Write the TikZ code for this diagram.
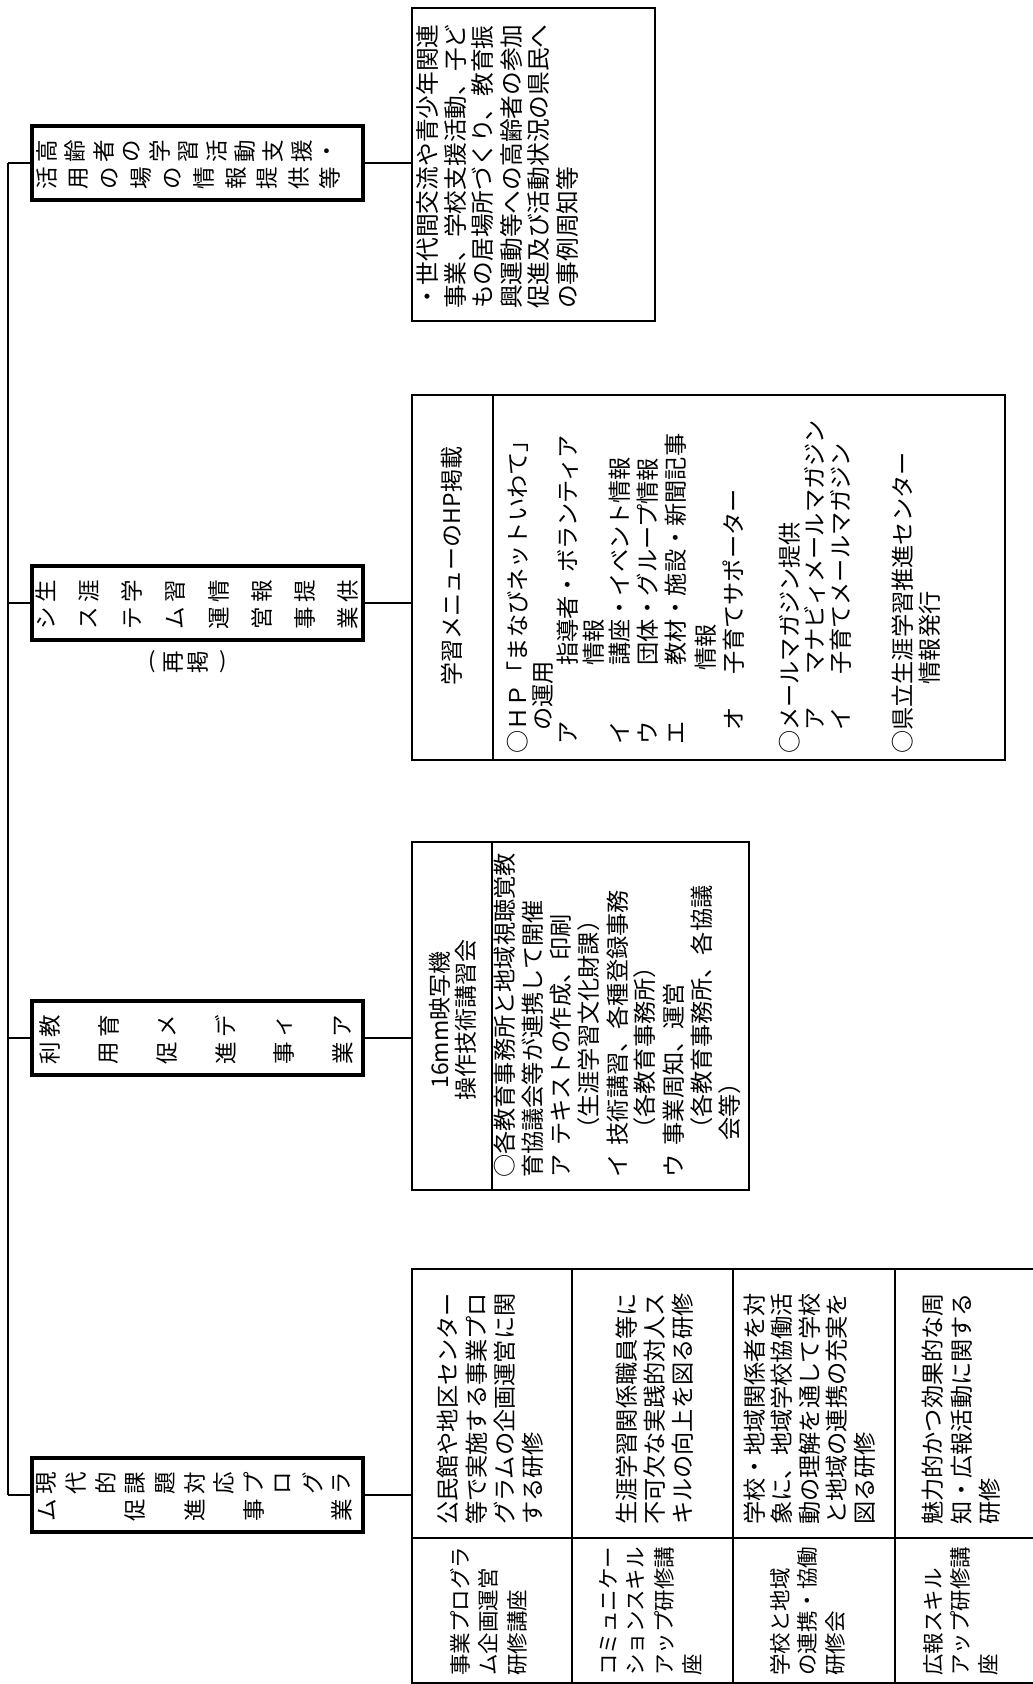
\documentclass[tikz,border=0pt]{standalone}
\usepackage{fontspec}
\setmainfont{Noto Sans CJK JP}
\begin{document}
\begin{tikzpicture}[x=1pt,y=-1pt,
  lab/.style={draw, line width=4.5pt, minimum width=331pt, minimum height=74pt, inner sep=0pt},
  det/.style={draw, line width=1.8pt, inner sep=0pt},
  con/.style={line width=1.8pt},
  ln/.style={rotate=90, anchor=west, inner sep=0pt, font=\fontsize{23.2}{27}\selectfont},
  lnA/.style={ln, font=\fontsize{23.7}{27}\selectfont},
  lnT/.style={ln, font=\fontsize{21.5}{26}\selectfont},
  hd/.style={rotate=90, anchor=center, inner sep=0pt, font=\fontsize{23}{27}\selectfont},
  ch/.style={rotate=90, inner sep=0pt, font=\fontsize{22.5}{26}\selectfont},
  par/.style={inner sep=0pt, font=\fontsize{22}{26}\selectfont}]
\useasboundingbox (0,0) rectangle (1033,1684);
\fill[white] (0,0) rectangle (1033,1684);

% ---------- label boxes ----------
\node[lab] (A) at (197.5,163) {};
\node[lab] (B) at (197.5,603) {};
\node[lab] (C) at (197.5,1038) {};
\node[lab] (D) at (197.5,1495) {};

\foreach \c [count=\i from 0] in {高,齢,者,の,学,習,活,動,支,援,・}
  \node[ch] (at\i) at ({47+28.3*\i},151) {\c};
\foreach \c [count=\i from 0] in {活,用,の,場,の,情,報,提,供,等}
  \node[ch] (ab\i) at ({47+31.44*\i},178) {\c};

\foreach \c [count=\i from 0] in {生,涯,学,習,情,報,提,供}
  \node[ch] (bt\i) at ({46+43.2*\i},591) {\c};
\foreach \c [count=\i from 0] in {シ,ス,テ,ム,運,営,事,業}
  \node[ch] (bb\i) at ({46+43.2*\i},618) {\c};
\node[par] (bp1) at (152,662) {(};
\node[ch]  (bp2) at (174,662) {再};
\node[ch]  (bp3) at (198,662) {掲};
\node[par] (bp4) at (223,662) {)};

\foreach \c [count=\i from 0] in {教,育,メ,デ,ィ,ア}
  \node[ch] (ct\i) at ({50+58.5*\i},1026) {\c};
\foreach \c [count=\i from 0] in {利,用,促,進,事,業}
  \node[ch] (cb\i) at ({50+58.5*\i},1053) {\c};

\foreach \c [count=\i from 0] in {現,代,的,課,題,対,応,プ,ロ,グ,ラ}
  \node[ch] (dt\i) at ({47+29.5*\i},1483) {\c};
\foreach \c/\k in {ム/0,促/3,進/5,事/7,業/10}
  \node[ch] (db\k) at ({47+29.5*\k},1510) {\c};

% ---------- detail boxes ----------
\node[det, minimum width=243pt, minimum height=313pt] (DA) at (533.5,164.5) {};
\node[det, minimum width=593pt, minimum height=365pt] (DB) at (708.5,577.5) {};
\node[det, minimum width=337pt, minimum height=348pt] (DC) at (580.5,1016) {};
\draw[con] (493,395) -- (493,760);
\draw[con] (492,842) -- (492,1190);

% table
\coordinate (T) at (412,1269);
\draw[con] (1033,1269) -- (T) -- (412,1683) -- (1033,1683);
\draw[con] (412,1538) -- (1033,1538);
\draw[con] (572,1269) -- (572,1683);
\draw[con] (733,1269) -- (733,1683);
\draw[con] (895,1269) -- (895,1683);

% ---------- connectors ----------
\coordinate (mtop) at (8,163);
\coordinate (mbot) at (8,1495);
\draw[con] (mtop) -- (mbot);
\draw[con] (mtop) -- (A.west);
\draw[con] (B.west -| mtop) -- (B.west);
\draw[con] (C.west -| mtop) -- (C.west);
\draw[con] (mbot) -- (D.west);
\draw[con] (A.east) -- (A.east -| DA.west);
\draw[con] (B.east) -- (B.east -| DB.west);
\draw[con] (C.east) -- (C.east -| DC.west);
\draw[con] (D.east) -- (D.east -| T);

% ---------- detail A text ----------
\node[lnA] (a1) at (427,309) {・世代間交流や青少年関連};
\node[lnA] (a2) at (455,309) {事業、学校支援活動、子ど};
\node[lnA] (a3) at (483,309) {もの居場所づくり、教育振};
\node[lnA] (a4) at (511,309) {興運動等への高齢者の参加};
\node[lnA] (a5) at (539,309) {促進及び活動状況の県民へ};
\node[lnA] (a6) at (567,309) {の事例周知等};

% ---------- detail B text ----------
\node[hd] (bh) at (452,566) {学習メニューのHP掲載};
\node[ln] (b1) at (518,754) {○ＨＰ「まなびネットいわて」};
\node[ln] (b2) at (543,754) {\hspace{1em}の運用};
\node[ln] (b3) at (568,754) {\hspace{0.4em}ア\hspace{2.4em}指導者・ボランティア};
\node[ln] (b4) at (594,754) {\hspace{3.8em}情報};
\node[ln] (b5) at (620,754) {\hspace{0.4em}イ\hspace{2.4em}講座・イベント情報};
\node[ln] (b6) at (648,754) {\hspace{0.4em}ウ\hspace{2.4em}団体・グループ情報};
\node[ln] (b7) at (676,754) {\hspace{0.4em}エ\hspace{2.4em}教材・施設・新聞記事};
\node[ln] (b8) at (706,754) {\hspace{3.6em}情報};
\node[ln] (b9) at (734,754) {\hspace{1em}オ\hspace{1.4em}子育てサポーター};
\node[ln] (b10) at (790,754) {○メールマガジン提供};
\node[ln] (b11) at (815,754) {\hspace{1em}ア\hspace{1.4em}マナビィメールマガジン};
\node[ln] (b12) at (841,754) {\hspace{1em}イ\hspace{1.4em}子育てメールマガジン};
\node[ln] (b13) at (903,754) {○県立生涯学習推進センター};
\node[ln] (b14) at (930,754) {\hspace{3em}情報発行};

% ---------- detail C text ----------
\node[hd] (ch1) at (440,1020) {16mm映写機};
\node[hd] (ch2) at (466,1020) {操作技術講習会};
\node[ln] (c1) at (505,1178) {○各教育事務所と地域視聴覚教};
\node[ln] (c2) at (533,1178) {育協議会等が連携して開催};
\node[ln] (c3) at (561,1178) {ア\hspace{0.4em}テキストの作成、印刷};
\node[ln] (c4) at (589,1178) {\hspace{1.6em}（生涯学習文化財課）};
\node[ln] (c5) at (618,1178) {イ\hspace{0.4em}技術講習、各種登録事務};
\node[ln] (c6) at (645,1178) {\hspace{1.6em}（各教育事務所）};
\node[ln] (c7) at (674,1178) {ウ\hspace{0.4em}事業周知、運営};
\node[ln] (c8) at (702,1178) {\hspace{1.6em}（各教育事務所、各協議};
\node[ln] (c9) at (730,1178) {\hspace{1.6em}会等）};

% ---------- table text ----------
\node[ln] (t11) at (448,1525) {公民館や地区センター};
\node[ln] (t12) at (477,1525) {等で実施する事業プロ};
\node[ln] (t13) at (505,1525) {グラムの企画運営に関};
\node[ln] (t14) at (533,1525) {する研修};
\node[lnT] (s11) at (460,1676) {事業プログラ};
\node[lnT] (s12) at (488,1676) {ム企画運営};
\node[lnT] (s13) at (517,1676) {研修講座};

\node[ln] (t21) at (627,1525) {生涯学習関係職員等に};
\node[ln] (t22) at (655,1525) {不可欠な実践的対人ス};
\node[ln] (t23) at (683,1525) {キルの向上を図る研修};
\node[lnT] (s21) at (608,1676) {コミュニケー};
\node[lnT] (s22) at (636,1676) {ションスキル};
\node[lnT] (s23) at (664,1676) {アップ研修講};
\node[lnT] (s24) at (692,1676) {座};

\node[ln] (t31) at (755,1525) {学校・地域関係者を対};
\node[ln] (t32) at (782,1525) {象に、地域学校協働活};
\node[ln] (t33) at (810,1525) {動の理解を通して学校};
\node[ln] (t34) at (837,1525) {と地域の連携の充実を};
\node[ln] (t35) at (865,1525) {図る研修};
\node[lnT] (s31) at (780,1676) {学校と地域};
\node[lnT] (s32) at (807,1676) {の連携・協働};
\node[lnT] (s33) at (835,1676) {研修会};

\node[ln] (t41) at (933,1525) {魅力的かつ効果的な周};
\node[ln] (t42) at (962,1525) {知・広報活動に関する};
\node[ln] (t43) at (990,1525) {研修};
\node[lnT] (s41) at (933,1676) {広報スキル};
\node[lnT] (s42) at (960,1676) {アップ研修講};
\node[lnT] (s43) at (988,1676) {座};
\end{tikzpicture}
\end{document}
